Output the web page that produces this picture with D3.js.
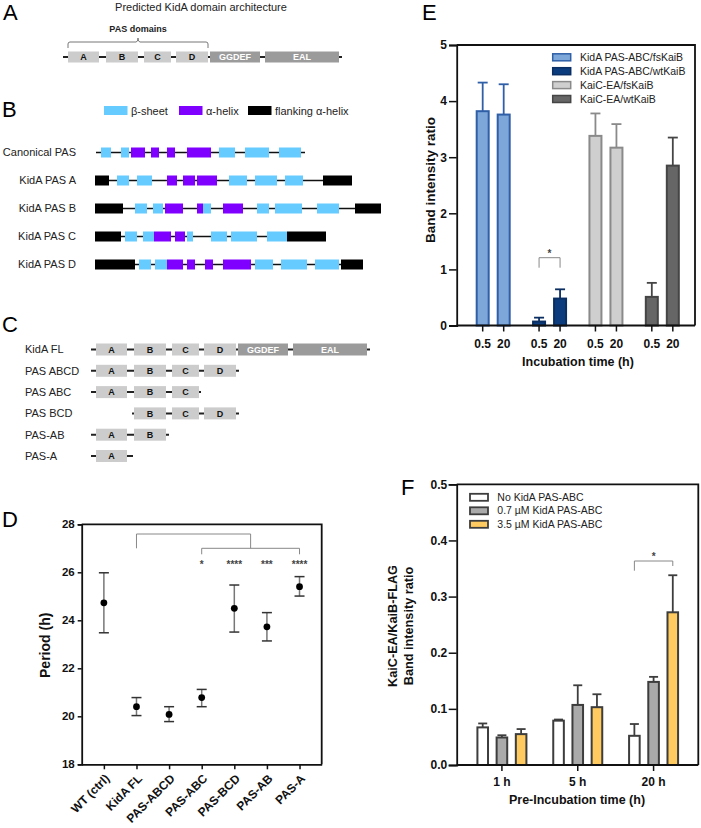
<!DOCTYPE html>
<html><head><meta charset="utf-8">
<script src="https://cdn.jsdelivr.net/npm/d3@7"></script>
<style>
body{margin:0;background:#fff}
svg{display:block}
text{font-family:Arial,"Liberation Sans",sans-serif}
</style>
</head><body>
<svg id="c" width="701" height="828"></svg>
<script>
// ---------- DATA ----------
// Panel A / C: domain architecture (arbitrary residue-like units)
const archDomains = ["A","B","C","D","GGDEF","EAL"];
const archStart   = [5, 43, 81, 113, 147, 202];
const archEnd     = [36, 75, 108, 145, 197, 276];
const archLength  = 279;

// Panel B: secondary structure elements [type, start, end]
const ssTypes  = ["β-sheet","α-helix","flanking α-helix"];
const ssRows   = ["Canonical PAS","KidA PAS A","KidA PAS B","KidA PAS C","KidA PAS D"];
const ssExtent = [[1,210],[0,257],[0,286],[0,231],[0,268]];
const ssCanonical = [["b",6,16],["b",26,34],["a",36,50],["a",56,64],["a",72,80],["a",92,116],["b",124,140],["b",150,174],["b",184,206]];
const ssPasA = [["f",0,14],["b",22,34],["b",42,57],["a",72,82],["a",88,100],["a",102,122],["b",134,152],["b",160,182],["b",190,208],["f",228,257]];
const ssPasB = [["f",0,28],["b",40,52],["b",58,68],["a",70,88],["a",102,108],["b",108,116],["a",128,148],["b",162,174],["b",180,207],["b",222,244],["f",260,286]];
const ssPasC = [["f",0,26],["b",30,42],["b",48,59],["a",59,76],["a",80,90],["b",92,98],["b",116,132],["b",136,162],["b",172,192],["f",192,231]];
const ssPasD = [["f",0,40],["b",44,56],["b",60,72],["a",72,88],["a",92,100],["a",110,118],["a",128,156],["b",160,178],["b",186,212],["b",220,244],["f",246,268]];

// Panel C: constructs
const constructNames   = ["KidA FL","PAS ABCD","PAS ABC","PAS BCD","PAS-AB","PAS-A"];
const constructDomains = [["A","B","C","D","GGDEF","EAL"],["A","B","C","D"],["A","B","C"],["B","C","D"],["A","B"],["A"]];
const constructExtent  = [[0,279],[0,148],[0,110],[41,148],[0,78],[0,42]];

// Panel D: period
const periodStrains = ["WT (ctrl)","KidA FL","PAS-ABCD","PAS-ABC","PAS-BCD","PAS-AB","PAS-A"];
const periodMean = [24.73, 20.40, 20.08, 20.78, 24.50, 23.73, 25.40];
const periodLow  = [23.48, 20.03, 19.78, 20.40, 23.51, 23.14, 25.01];
const periodHigh = [25.98, 20.78, 20.40, 21.12, 25.47, 24.32, 25.82];
const periodStars = ["","","","*","****","***","****"];
const periodTicks = [18,20,22,24,26,28];

// Panel E: band intensity
const bindSeries = ["KidA PAS-ABC/fsKaiB","KidA PAS-ABC/wtKaiB","KaiC-EA/fsKaiB","KaiC-EA/wtKaiB"];
const bindTimes  = ["0.5","20"];
const bindMean   = [[3.82,3.76],[0.07,0.48],[3.38,3.17],[0.51,2.85]];
const bindUpper  = [[4.33,4.30],[0.14,0.645],[3.78,3.59],[0.76,3.35]];
const bindTicks  = [0,1,2,3,4,5];

// Panel F: pre-incubation
const preTimes  = ["1 h","5 h","20 h"];
const preSeries = ["No KidA PAS-ABC","0.7 µM KidA PAS-ABC","3.5 µM KidA PAS-ABC"];
const preNo      = [0.067,0.079,0.052];
const preNoUp    = [0.074,0.081,0.073];
const pre07      = [0.049,0.107,0.148];
const pre07Up    = [0.053,0.142,0.157];
const pre35      = [0.055,0.103,0.272];
const pre35Up    = [0.064,0.126,0.338];
const preTicks   = [0,0.1,0.2,0.3,0.4,0.5];

// ---------- DRAW ----------
const svg = d3.select("#c");
const FONT = 'Arial,"Liberation Sans",sans-serif';

function letter(t,x,y){svg.append("text").attr("x",x).attr("y",y).attr("font-size",22).text(t);}
letter("A",3,20); letter("B",2,117); letter("C",2,332); letter("D",2,527); letter("E",422,20); letter("F",401,495);

const domFill = d => (d==="GGDEF"||d==="EAL") ? "#9b9b9b" : "#cccccc";
const domText = d => (d==="GGDEF"||d==="EAL") ? "#fff" : "#111";

// Panel A
svg.append("text").attr("x",201).attr("y",11).attr("text-anchor","middle").attr("font-size",11).attr("fill","#222")
  .text("Predicted KidA domain architecture");
const xA = d3.scaleLinear().domain([0,archLength]).range([63,342]);
const gA = svg.append("g");
gA.append("line").attr("x1",xA(0)).attr("x2",xA(archLength)).attr("y1",57).attr("y2",57).attr("stroke","#222").attr("stroke-width",2);
archDomains.forEach((d,i)=>{
  gA.append("rect").attr("x",xA(archStart[i])).attr("y",51.5).attr("width",xA(archEnd[i])-xA(archStart[i])).attr("height",11).attr("fill",domFill(d));
  gA.append("text").attr("x",(xA(archStart[i])+xA(archEnd[i]))/2).attr("y",57).attr("dy","0.35em").attr("text-anchor","middle")
    .attr("font-size",9).attr("font-weight","bold").attr("fill",domText(d)).text(d);
});
// brace over PAS domains
{
  const b0 = xA(archStart[0]), b1 = xA(archEnd[3]), bm = (b0+b1)/2;
  gA.append("path").attr("d",`M${b0},48 L${b0},44 Q${b0},42 ${b0+2},42 L${bm-2},42 Q${bm},42 ${bm},38 Q${bm},42 ${bm+2},42 L${b1-2},42 Q${b1},42 ${b1},44 L${b1},48`)
    .attr("fill","none").attr("stroke","#777").attr("stroke-width",1);
  gA.append("text").attr("x",bm).attr("y",32).attr("text-anchor","middle").attr("font-size",9).attr("font-weight","bold").attr("fill","#222").text("PAS domains");
}

// Panel B
const ssColor = {b:"#66ccff", a:"#8000ff", f:"#000000"};
const ssKeys = ["b","a","f"];
const legX = [104,179,248];
ssTypes.forEach((t,i)=>{
  svg.append("rect").attr("x",legX[i]).attr("y",106).attr("width",23.5).attr("height",9).attr("fill",ssColor[ssKeys[i]]);
  svg.append("text").attr("x",legX[i]+27).attr("y",114.5).attr("font-size",11).attr("fill","#222").text(t);
});
const xB = d3.scaleLinear().domain([0,290]).range([95,385]);
const yB = d3.scalePoint().domain(ssRows).range([152.5,264.5]);
const ssData = [ssCanonical, ssPasA, ssPasB, ssPasC, ssPasD];
ssRows.forEach((r,i)=>{
  const y = yB(r);
  svg.append("text").attr("x",76).attr("y",y).attr("dy","0.35em").attr("text-anchor","end").attr("font-size",11).attr("fill","#222").text(r);
  svg.append("line").attr("x1",xB(ssExtent[i][0])).attr("x2",xB(ssExtent[i][1])).attr("y1",y).attr("y2",y).attr("stroke","#111").attr("stroke-width",1.5);
  svg.append("g").selectAll("rect").data(ssData[i]).join("rect")
    .attr("x",d=>xB(d[1])).attr("width",d=>xB(d[2])-xB(d[1])).attr("y",y-5).attr("height",10)
    .attr("fill",d=>ssColor[d[0]]);
});

// Panel C
const xC = d3.scaleLinear().domain([0,archLength]).range([91,370]);
const yC = d3.scalePoint().domain(constructNames).range([349.5,456]);
constructNames.forEach((n,i)=>{
  const y = yC(n);
  svg.append("text").attr("x",25).attr("y",y).attr("dy","0.35em").attr("font-size",11).attr("fill","#222").text(n);
  svg.append("line").attr("x1",xC(constructExtent[i][0])).attr("x2",xC(constructExtent[i][1])).attr("y1",y).attr("y2",y).attr("stroke","#222").attr("stroke-width",2);
  constructDomains[i].forEach(d=>{
    const k = archDomains.indexOf(d);
    svg.append("rect").attr("x",xC(archStart[k])).attr("y",y-6).attr("width",xC(archEnd[k])-xC(archStart[k])).attr("height",12).attr("fill",domFill(d));
    svg.append("text").attr("x",(xC(archStart[k])+xC(archEnd[k]))/2).attr("y",y).attr("dy","0.35em").attr("text-anchor","middle")
      .attr("font-size",9).attr("font-weight","bold").attr("fill",domText(d)).text(d);
  });
});

function styleAxis(g, fs){
  g.select(".domain").attr("stroke","#111").attr("stroke-width",1.8);
  g.selectAll(".tick line").attr("stroke","#111").attr("stroke-width",1.5);
  g.selectAll(".tick text").attr("font-size",fs).attr("font-weight","bold").attr("fill","#111").attr("font-family",FONT);
}

// Panel D
{
  const L=81.7, R=321.7, T=524.3, B=764.3;
  const x = d3.scalePoint().domain(periodStrains).range([L,R]).padding(0.68);
  const y = d3.scaleLinear().domain([18,28]).range([B,T]);
  const g = svg.append("g");
  g.append("path").attr("d",`M${L},${T} L${R},${T} L${R},${B}`).attr("fill","none").attr("stroke","#111").attr("stroke-width",1.8);
  const ya = g.append("g").attr("transform",`translate(${L},0)`).call(d3.axisLeft(y).tickValues(periodTicks).tickSize(4).tickPadding(3).tickFormat(d3.format("d")));
  styleAxis(ya,11.5);
  const xa = g.append("g").attr("transform",`translate(0,${B})`).call(d3.axisBottom(x).tickSize(5).tickSizeOuter(0));
  styleAxis(xa,12);
  xa.selectAll(".tick text").attr("x",0).attr("y",0).attr("dy","0.35em").attr("transform","translate(3,12) rotate(-45)").style("text-anchor","end");
  g.append("text").attr("transform",`translate(45,${(T+B)/2+1}) rotate(-90)`).attr("text-anchor","middle").attr("dy","0.35em")
    .attr("font-size",14).attr("font-weight","bold").attr("fill","#111").text("Period (h)");
  // error bars
  periodStrains.forEach((s,i)=>{
    const cx = x(s);
    g.append("line").attr("x1",cx).attr("x2",cx).attr("y1",y(periodLow[i])).attr("y2",y(periodHigh[i])).attr("stroke","#777").attr("stroke-width",1.5);
    [periodLow[i],periodHigh[i]].forEach(v=>g.append("line").attr("x1",cx-5).attr("x2",cx+5).attr("y1",y(v)).attr("y2",y(v)).attr("stroke","#333").attr("stroke-width",1.5));
    g.append("circle").attr("cx",cx).attr("cy",y(periodMean[i])).attr("r",3.4).attr("fill","#000");
    if(periodStars[i]) g.append("text").attr("x",cx).attr("y",567.5).attr("text-anchor","middle").attr("font-size",10).attr("font-weight","bold").attr("fill","#444").text(periodStars[i]);
  });
  // brackets
  const x1 = x("PAS-ABC"), x2 = x("PAS-A"), xm = (x1+x2)/2, xk = x("KidA FL");
  g.append("path").attr("d",`M${xk},548.3 L${xk},534 L${xm},534 L${xm},548.3`).attr("fill","none").attr("stroke","#888").attr("stroke-width",1);
  g.append("path").attr("d",`M${x1},554.3 L${x1},548.3 L${x2},548.3 L${x2},554.3`).attr("fill","none").attr("stroke","#888").attr("stroke-width",1);
}

// Panel E
{
  const L=456.7, R=695, T=45, B=325.5;
  const y = d3.scaleLinear().domain([0,5]).range([B,T]);
  const xg = d3.scaleBand().domain(bindSeries).range([465,690.5]);
  const xi = d3.scaleBand().domain(bindTimes).range([0,35]).paddingInner(1/3);
  const off = (xg.bandwidth()-35)/2;
  const fills = ["#7da6d9","#0b3d7e","#cfcfcf","#666666"];
  const strokes = ["#2f5fa7","#0a2e62","#8a8a8a","#454545"];
  const g = svg.append("g");
  g.append("path").attr("d",`M${L},${T} L${R},${T} L${R},${B}`).attr("fill","none").attr("stroke","#111").attr("stroke-width",1.8);
  bindSeries.forEach((s,si)=>{
    const gx = xg(s)+off;
    bindTimes.forEach((t,ti)=>{
      const bx = gx+xi(t), w = xi.bandwidth(), cx = bx+w/2;
      g.append("line").attr("x1",cx).attr("x2",cx).attr("y1",y(bindMean[si][ti])).attr("y2",y(bindUpper[si][ti])).attr("stroke",strokes[si]).attr("stroke-width",1.8);
      g.append("line").attr("x1",cx-5).attr("x2",cx+5).attr("y1",y(bindUpper[si][ti])).attr("y2",y(bindUpper[si][ti])).attr("stroke",strokes[si]).attr("stroke-width",1.8);
      g.append("rect").attr("x",bx+1).attr("width",w-2).attr("y",y(bindMean[si][ti])).attr("height",B-y(bindMean[si][ti]))
        .attr("fill",fills[si]).attr("stroke",strokes[si]).attr("stroke-width",2);
    });
    const ax = g.append("g").attr("transform",`translate(${gx},${B})`).call(d3.axisBottom(xi).tickSize(6).tickPadding(8));
    styleAxis(ax,12); ax.select(".domain").remove();
    // legend
    const ly = 57.3 + si*13.9;
    g.append("rect").attr("x",552.7).attr("y",ly-3.5).attr("width",18).attr("height",7).attr("fill",fills[si]).attr("stroke",strokes[si]).attr("stroke-width",1.5);
    g.append("text").attr("x",580).attr("y",ly).attr("dy","0.35em").attr("font-size",10.5).attr("fill","#222").text(s);
  });
  const ya = g.append("g").attr("transform",`translate(${L},0)`).call(d3.axisLeft(y).tickValues(bindTicks).tickSize(7.7).tickPadding(2).tickFormat(d3.format("d")));
  styleAxis(ya,12);
  g.append("line").attr("x1",L).attr("x2",R).attr("y1",B).attr("y2",B).attr("stroke","#111").attr("stroke-width",1.8);
  g.append("text").attr("transform",`translate(430,180) rotate(-90)`).attr("text-anchor","middle").attr("dy","0.35em")
    .attr("font-size",13.5).attr("font-weight","bold").attr("fill","#111").text("Band intensity ratio");
  g.append("text").attr("x",578).attr("y",365.5).attr("text-anchor","middle").attr("font-size",12.5).attr("font-weight","bold").attr("fill","#111").text("Incubation time (h)");
  // significance
  const s1 = xg(bindSeries[1])+off+xi("0.5")+xi.bandwidth()/2, s2 = xg(bindSeries[1])+off+xi("20")+xi.bandwidth()/2;
  g.append("path").attr("d",`M${s1},267.7 L${s1},257.7 L${s2},257.7 L${s2},267.7`).attr("fill","none").attr("stroke","#888").attr("stroke-width",1);
  g.append("text").attr("x",(s1+s2)/2).attr("y",257).attr("text-anchor","middle").attr("font-size",10).attr("font-weight","bold").attr("fill","#444").text("*");
}

// Panel F
{
  const L=456.7, R=698.3, T=484.3, B=765;
  const y = d3.scaleLinear().domain([0,0.5]).range([B,T]);
  const xg = d3.scaleBand().domain(preTimes).range([464,691.5]);
  const xi = d3.scaleBand().domain(preSeries).range([0,51]).paddingInner(0.344);
  const off = (xg.bandwidth()-51)/2;
  const vals = [preNo, pre07, pre35], ups = [preNoUp, pre07Up, pre35Up];
  const fills = ["#ffffff","#aaaaaa","#ffca5f"];
  const stroke = "#3d3d3d";
  const g = svg.append("g");
  g.append("path").attr("d",`M${L},${T} L${R},${T} L${R},${B}`).attr("fill","none").attr("stroke","#111").attr("stroke-width",1.8);
  preTimes.forEach((t,ti)=>{
    preSeries.forEach((s,si)=>{
      const bx = xg(t)+off+xi(s), w = xi.bandwidth(), cx = bx+w/2;
      const v = vals[si][ti], u = ups[si][ti];
      g.append("line").attr("x1",cx).attr("x2",cx).attr("y1",y(v)).attr("y2",y(u)).attr("stroke",stroke).attr("stroke-width",1.8);
      g.append("line").attr("x1",cx-4.5).attr("x2",cx+4.5).attr("y1",y(u)).attr("y2",y(u)).attr("stroke",stroke).attr("stroke-width",1.8);
      g.append("rect").attr("x",bx+1).attr("width",w-2).attr("y",y(v)).attr("height",B-y(v)).attr("fill",fills[si]).attr("stroke",stroke).attr("stroke-width",2);
    });
  });
  const xa = g.append("g").attr("transform",`translate(0,${B})`).call(d3.axisBottom(xg).tickSize(6).tickPadding(6).tickSizeOuter(0));
  styleAxis(xa,12); xa.select(".domain").remove();
  const ya = g.append("g").attr("transform",`translate(${L},0)`).call(d3.axisLeft(y).tickValues(preTicks).tickSize(8).tickPadding(1.5).tickFormat(d3.format(".1f")));
  styleAxis(ya,12);
  g.append("line").attr("x1",L).attr("x2",R).attr("y1",B).attr("y2",B).attr("stroke","#111").attr("stroke-width",1.8);
  preSeries.forEach((s,si)=>{
    const ly = 497.3 + si*13.5;
    g.append("rect").attr("x",470).attr("y",ly-3.5).attr("width",18).attr("height",7).attr("fill",fills[si]).attr("stroke",stroke).attr("stroke-width",1.8);
    g.append("text").attr("x",497.3).attr("y",ly).attr("dy","0.35em").attr("font-size",10.5).attr("fill","#222").text(s);
  });
  const yl = g.append("text").attr("transform",`translate(0,626) rotate(-90)`).attr("text-anchor","middle")
    .attr("font-size",12.7).attr("font-weight","bold").attr("fill","#111");
  yl.append("tspan").attr("x",0).attr("y",392.3).attr("dy","0.35em").text("KaiC-EA/KaiB-FLAG");
  yl.append("tspan").attr("x",0).attr("y",408.3).attr("dy","0.35em").text("Band intensity ratio");
  g.append("text").attr("x",577).attr("y",804).attr("text-anchor","middle").attr("font-size",12.5).attr("font-weight","bold").attr("fill","#111").text("Pre-Incubation time (h)");
  const t20 = xg("20 h")+off, s1 = t20+xi(preSeries[0])+xi.bandwidth()/2, s2 = t20+xi(preSeries[2])+xi.bandwidth()/2;
  g.append("path").attr("d",`M${s1},570.7 L${s1},561 L${s2},561 L${s2},566`).attr("fill","none").attr("stroke","#888").attr("stroke-width",1);
  g.append("text").attr("x",(s1+s2)/2).attr("y",560).attr("text-anchor","middle").attr("font-size",10).attr("font-weight","bold").attr("fill","#444").text("*");
}
</script>
</body></html>
